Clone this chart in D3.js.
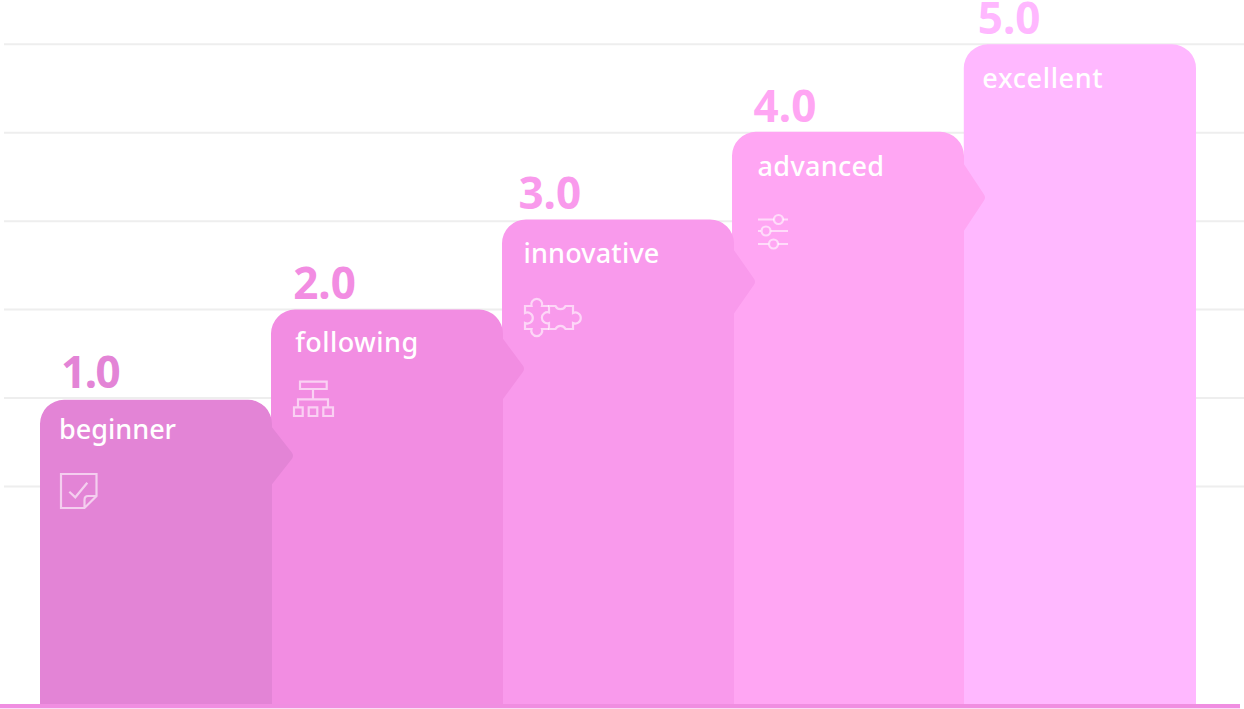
<!DOCTYPE html>
<html><head><meta charset="utf-8">
<script src="https://cdnjs.cloudflare.com/ajax/libs/d3/7.8.5/d3.min.js"></script>
<style>html,body{margin:0;padding:0;background:#fff;overflow:hidden}svg{display:block}
text{font-family:"Noto Sans",sans-serif}</style></head><body><div id="c"></div>
<script>
const categories=["beginner","following","innovative","advanced","excellent"];
const values=[0.98,2.0,3.02,4.01,5.0];
const gridTicks=[0,1,2,3,4,5];
const colors=["#e384d6","#f28de2","#f99aec","#ffa6f3","#ffb8ff"];
const W=1244,H=709;
const labelDx=[19,24,21,24,17.5], valueDx=[21,22,16,20,13];
const labelDy=[39.5,42,44,44,44], valueDy=[12,11,10,10,10];
const labelSpacing=[0,.45,.2,.3,.65], valueSpacing=[-1.5,0,0,0,0];
const edgeDx=[.8,.6,.4,-.8,0], leftDx=[0,-.2,-.4,-1.6,-1];
const svg=d3.select("#c").append("svg").attr("width",W).attr("height",H);
const x=d3.scaleBand().domain(categories).range([40,1196]);
const y=d3.scaleLinear().domain([0,5]).range([486.5,44.3]);
const base=704,r=24;
svg.append("g").selectAll("line").data(gridTicks).join("line")
 .attr("x1",4).attr("x2",W).attr("y1",d=>y(d)).attr("y2",d=>y(d)).attr("stroke","#eeeeee").attr("stroke-width",2);
const rows=categories.map((c,i)=>({c,i,v:values[i],col:colors[i]}));
function barPath(d){
 const x0=x(d.c)+leftDx[d.i],x1=x(d.c)+x.bandwidth()+edgeDx[d.i],t=y(d.v),h=base-t;
 let p=`M${x0},${base}V${t+r}A${r},${r} 0 0 1 ${x0+r},${t}H${x1-r}A${r},${r} 0 0 1 ${x1},${t+r}`;
 if(d.i<4){const m=t+45+0.036*h,hh=23+0.018*h,tipX=x1+22;
  p+=`V${m-hh}L${tipX-2},${m-3}Q${tipX},${m} ${tipX-2},${m+3}L${x1},${m+hh}`;}
 return p+`V${base}Z`;
}
const g=svg.append("g");
g.selectAll("path").data(rows.slice().reverse()).join("path").attr("d",barPath).attr("fill",d=>d.col);
svg.append("rect").attr("x",0).attr("y",base).attr("width",1240).attr("height",4).attr("fill","#f08ee1");
svg.append("rect").attr("x",0).attr("y",base+4).attr("width",1240).attr("height",1).attr("fill","#fbdcf6");
svg.append("g").selectAll("text").data(rows).join("text")
 .attr("x",d=>x(d.c)+valueDx[d.i]).attr("y",d=>y(d.v)-valueDy[d.i]).attr("fill",d=>d.col)
 .attr("font-size",44).attr("font-weight",700).attr("letter-spacing",d=>valueSpacing[d.i]).text(d=>d3.format(".1f")(d.v));
svg.append("g").selectAll("text").data(rows).join("text")
 .attr("x",d=>x(d.c)+labelDx[d.i]).attr("y",d=>y(d.v)+labelDy[d.i]).attr("fill","#fff")
 .attr("font-size",27).attr("font-weight",500).attr("letter-spacing",d=>labelSpacing[d.i]).text(d=>d.c);
const ic=svg.append("g").attr("fill","none").attr("stroke","#fff").attr("stroke-opacity",.6).attr("stroke-width",2.2);
const check=ic.append("g").attr("transform","translate(61,474)");
check.append("path").attr("d","M0,0H35.5V22L23.5,34H0Z M35.5,22H27Q23.5,22 23.5,26V34");
check.append("path").attr("d","M8.3,17.7L14.3,23.3L26.3,8.7");
const org=ic.append("g").attr("transform","translate(293,381)");
org.append("path").attr("d","M7,.7H33.7V8H7Z M20,8V18.3 M5,26V18.3H35V26 M1,26.3H9.7V35H1Z M15.7,26.3H24.3V35H15.7Z M30.3,26.3H40V35H30.3Z");
const pz=ic.append("g").attr("transform","translate(524,298)");
pz.append("path").attr("d","M25,8H18A5.5,5.5 0 1 0 7.5,8H1V15A5.5,5.5 0 1 1 1,25V31H7.5A5.5,5.5 0 1 0 18,31H25");
pz.append("path").attr("d","M25,8H31.5A5.5,5.5 0 0 0 41.5,8H49V15A5.5,5.5 0 1 1 49,25V31H41.5A5.5,5.5 0 0 0 31.5,31H25V25A5.5,5.5 0 1 1 25,14.5V8Z");
const sl=ic.append("g").attr("transform","translate(758,214)");
sl.append("path").attr("d","M0,5.5H16 M25,5.5H30 M0,17H3 M12.5,17H30 M0,30H10.5 M20,30H30");
sl.append("circle").attr("cx",20.5).attr("cy",5.5).attr("r",4.5);
sl.append("circle").attr("cx",8).attr("cy",17).attr("r",4.5);
sl.append("circle").attr("cx",15.5).attr("cy",30).attr("r",4.5);
</script></body></html>
